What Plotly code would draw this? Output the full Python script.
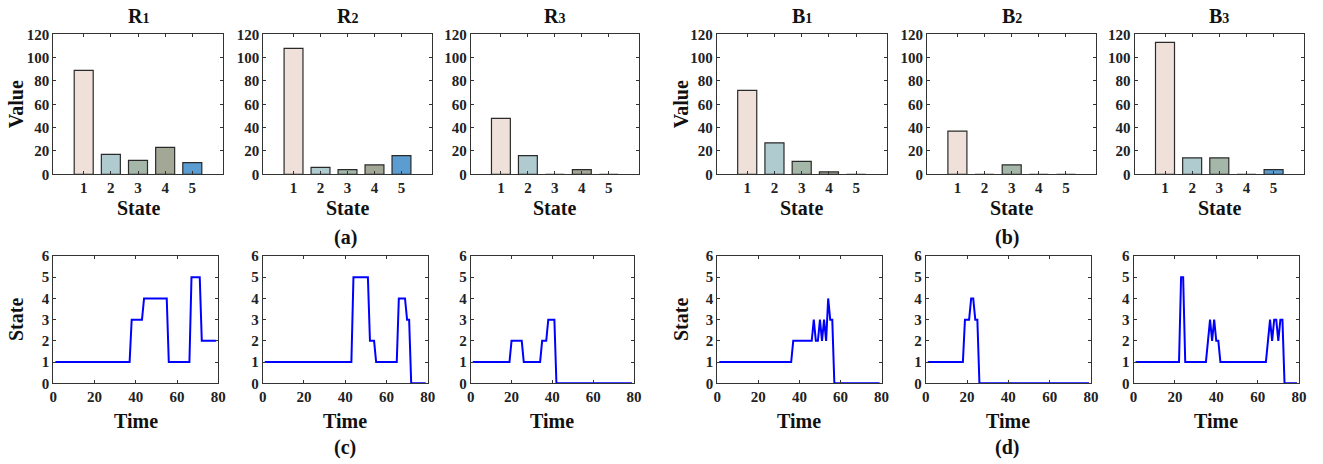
import plotly.graph_objects as go

# ---------------- data ----------------
STATES = [1, 2, 3, 4, 5]
BAR_COLORS = ["#EFE0D9", "#AFCBD0", "#A4B7A8", "#A3A796", "#5B9DD0"]
BAR_TITLES = [("R", "1"), ("R", "2"), ("R", "3"),
              ("B", "1"), ("B", "2"), ("B", "3")]

R1_values = [89, 17, 12, 23, 10]
R2_values = [108, 6, 4, 8, 16]
R3_values = [48, 16, 0, 4, 0]
B1_values = [72, 27, 11, 2, 0]
B2_values = [37, 0, 8, 0, 0]
B3_values = [113, 14, 14, 0, 4]

TIME = list(range(1, 80))
R1_series = [1, 1, 1, 1, 1, 1, 1, 1, 1, 1,
             1, 1, 1, 1, 1, 1, 1, 1, 1, 1,
             1, 1, 1, 1, 1, 1, 1, 1, 1, 1,
             1, 1, 1, 1, 1, 1, 1, 3, 3, 3,
             3, 3, 3, 4, 4, 4, 4, 4, 4, 4,
             4, 4, 4, 4, 4, 1, 1, 1, 1, 1,
             1, 1, 1, 1, 1, 1, 5, 5, 5, 5,
             5, 2, 2, 2, 2, 2, 2, 2, 2]
R2_series = [1, 1, 1, 1, 1, 1, 1, 1, 1, 1,
             1, 1, 1, 1, 1, 1, 1, 1, 1, 1,
             1, 1, 1, 1, 1, 1, 1, 1, 1, 1,
             1, 1, 1, 1, 1, 1, 1, 1, 1, 1,
             1, 1, 1, 5, 5, 5, 5, 5, 5, 5,
             5, 2, 2, 2, 1, 1, 1, 1, 1, 1,
             1, 1, 1, 1, 1, 4, 4, 4, 4, 3,
             3, 0, 0, 0, 0, 0, 0, 0, 0]
R3_series = [1, 1, 1, 1, 1, 1, 1, 1, 1, 1,
             1, 1, 1, 1, 1, 1, 1, 1, 1, 2,
             2, 2, 2, 2, 2, 1, 1, 1, 1, 1,
             1, 1, 1, 1, 2, 2, 2, 3, 3, 3,
             3, 0, 0, 0, 0, 0, 0, 0, 0, 0,
             0, 0, 0, 0, 0, 0, 0, 0, 0, 0,
             0, 0, 0, 0, 0, 0, 0, 0, 0, 0,
             0, 0, 0, 0, 0, 0, 0, 0, 0]
B1_series = [1, 1, 1, 1, 1, 1, 1, 1, 1, 1,
             1, 1, 1, 1, 1, 1, 1, 1, 1, 1,
             1, 1, 1, 1, 1, 1, 1, 1, 1, 1,
             1, 1, 1, 1, 1, 1, 2, 2, 2, 2,
             2, 2, 2, 2, 2, 2, 3, 2, 2, 3,
             2, 3, 2, 4, 3, 3, 0, 0, 0, 0,
             0, 0, 0, 0, 0, 0, 0, 0, 0, 0,
             0, 0, 0, 0, 0, 0, 0, 0, 0]
B2_series = [1, 1, 1, 1, 1, 1, 1, 1, 1, 1,
             1, 1, 1, 1, 1, 1, 1, 1, 3, 3,
             3, 4, 4, 3, 3, 0, 0, 0, 0, 0,
             0, 0, 0, 0, 0, 0, 0, 0, 0, 0,
             0, 0, 0, 0, 0, 0, 0, 0, 0, 0,
             0, 0, 0, 0, 0, 0, 0, 0, 0, 0,
             0, 0, 0, 0, 0, 0, 0, 0, 0, 0,
             0, 0, 0, 0, 0, 0, 0, 0, 0]
B3_series = [1, 1, 1, 1, 1, 1, 1, 1, 1, 1,
             1, 1, 1, 1, 1, 1, 1, 1, 1, 1,
             1, 1, 5, 5, 1, 1, 1, 1, 1, 1,
             1, 1, 1, 1, 1, 2, 3, 2, 3, 2,
             2, 1, 1, 1, 1, 1, 1, 1, 1, 1,
             1, 1, 1, 1, 1, 1, 1, 1, 1, 1,
             1, 1, 1, 1, 2, 3, 2, 3, 3, 2,
             3, 3, 0, 0, 0, 0, 0, 0, 0]

BAR_DATA = [R1_values, R2_values, R3_values, B1_values, B2_values, B3_values]
LINE_DATA = [R1_series, R2_series, R3_series, B1_series, B2_series, B3_series]

BAR_YTICKS = [0, 20, 40, 60, 80, 100, 120]
LINE_YTICKS = [0, 1, 2, 3, 4, 5, 6]
LINE_XTICKS = [0, 20, 40, 60, 80]

# ---------------- layout helpers ----------------
W, H = 1323, 464
FONT = "Liberation Serif"
AX_COL = "#333333"


def fx(p):
    return p / W


def fy(p):
    return 1 - p / H


top_x_px = [(53.3, 222.7), (263.3, 431.7), (470.7, 639.0),
            (716.7, 886.7), (927.0, 1096.4), (1134.6, 1304.0)]
bot_x_px = [(53.3, 218.3), (262.7, 427.7), (470.7, 634.0),
            (717.2, 881.6), (925.7, 1091.0), (1133.5, 1299.0)]
top_y_px = (34.3, 174.3)
bot_y_px = (256.0, 383.3)

fig = go.Figure()
layout = dict(
    width=W, height=H,
    margin=dict(l=0, r=0, t=0, b=0, autoexpand=False),
    paper_bgcolor="white", plot_bgcolor="white",
    showlegend=False,
    font=dict(family=FONT, color="#1a1a1a"),
)


def axis_style(**kw):
    d = dict(showline=True, linecolor=AX_COL, linewidth=1, mirror="ticks",
             ticks="inside", ticklen=3, tickwidth=1, tickcolor=AX_COL,
             showgrid=False, zeroline=False, fixedrange=True, automargin=False,
             tickfont=dict(family=FONT, size=15, color="#222222", weight="bold"))
    d.update(kw)
    return d


def ann(text, x, y, size=20, angle=0):
    return dict(text=text, x=x, y=y, xref="paper", yref="paper",
                xanchor="center", yanchor="middle",
                showarrow=False, textangle=angle,
                font=dict(family=FONT, size=size, color="#111", weight="bold"))


annotations = []

for i in range(6):
    # ---- bar subplot ----
    n = i + 1
    xa = "x" if n == 1 else f"x{n}"
    ya = "y" if n == 1 else f"y{n}"
    fig.add_trace(go.Bar(
        x=STATES, y=BAR_DATA[i], width=0.7,
        marker=dict(color=BAR_COLORS, line=dict(color="#2a2a2a", width=1.2)),
        xaxis=xa, yaxis=ya, hoverinfo="x+y"))
    layout["xaxis" if n == 1 else f"xaxis{n}"] = axis_style(
        domain=[fx(top_x_px[i][0]), fx(top_x_px[i][1])],
        range=[-0.12, 6.12], tickvals=STATES, anchor=ya)
    layout["yaxis" if n == 1 else f"yaxis{n}"] = axis_style(
        domain=[fy(top_y_px[1]), fy(top_y_px[0])],
        range=[0, 120], tickvals=BAR_YTICKS, anchor=xa)

    cx = fx((top_x_px[i][0] + top_x_px[i][1]) / 2)
    letter, idx = BAR_TITLES[i]
    annotations.append(ann(f"{letter}<span style='font-size:14px'>{idx}</span>",
                           cx, fy(16)))
    annotations.append(ann("State", cx, fy(208)))

    # ---- line subplot ----
    m = i + 7
    xa2, ya2 = f"x{m}", f"y{m}"
    fig.add_trace(go.Scatter(
        x=TIME, y=LINE_DATA[i], mode="lines",
        line=dict(color="#0000FF", width=2), cliponaxis=False,
        xaxis=xa2, yaxis=ya2))
    layout[f"xaxis{m}"] = axis_style(
        domain=[fx(bot_x_px[i][0]), fx(bot_x_px[i][1])],
        range=[0, 80], tickvals=LINE_XTICKS, anchor=ya2)
    layout[f"yaxis{m}"] = axis_style(
        domain=[fy(bot_y_px[1]), fy(bot_y_px[0])],
        range=[0, 6], tickvals=LINE_YTICKS, anchor=xa2)

    cx2 = fx((bot_x_px[i][0] + bot_x_px[i][1]) / 2)
    annotations.append(ann("Time", cx2, fy(421)))

# y-axis titles
for xpx in (16, 681):
    annotations.append(ann("Value", fx(xpx), fy(104.3), angle=-90))
    annotations.append(ann("State", fx(xpx), fy(320), angle=-90))

# panel labels
for lab, xpx, ypx in (("(a)", 345, 237), ("(b)", 1007, 237),
                      ("(c)", 345, 447), ("(d)", 1007, 447)):
    annotations.append(ann(lab, fx(xpx), fy(ypx)))

layout["annotations"] = annotations
fig.update_layout(**layout)
fig.write_html(
    "out.html",
    config={"displayModeBar": False},
    post_script="document.body.style.margin='0';document.body.style.padding='0';"
                "document.documentElement.style.overflow='hidden';",
)
